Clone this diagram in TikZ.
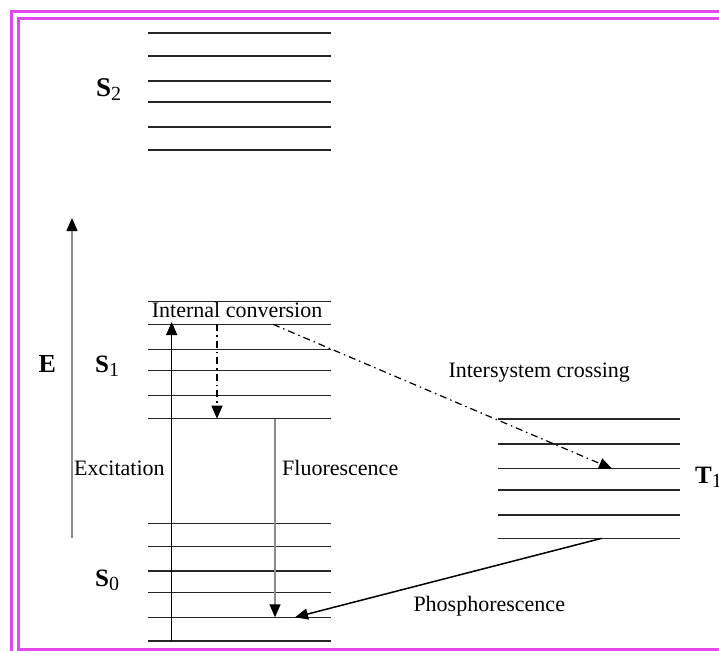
\documentclass[tikz,border=0pt]{standalone}
\usepackage{fontspec}
\setmainfont{Liberation Serif}
\usetikzlibrary{arrows.meta}
\definecolor{framecol}{RGB}{226,72,236}
\newcommand\stsub[1]{\raisebox{-4pt}{\fontsize{20}{20}\selectfont\mdseries #1}}
\begin{document}
\begin{tikzpicture}[x=1pt,y=-1pt,
  level/.style={line width=1.5pt,black!85},
  lbl/.style={font=\fontsize{22}{24}\selectfont,inner sep=0pt,anchor=base west},
  statelbl/.style={font=\fontsize{25}{27}\selectfont\bfseries,inner sep=0pt,anchor=base west},
  tiparrow/.style={-{Triangle[length=13pt,width=11pt,color=black]}},
  dashdot/.style={line width=1.2pt,dash pattern=on 7pt off 4pt on 1.5pt off 4pt},
  grayarrow/.style={line width=1.3pt,black!45},
  framebox/.style={draw=framecol,line width=3pt}]
\clip (0,0) rectangle (719,650);
\fill[white] (0,0) rectangle (719,650);
% frame
\draw[framebox] (11.3,11.5) rectangle (760,700);
\draw[framebox] (18.3,18.5) rectangle (750,649.3);
% levels
\foreach \y in {33,56,81,102,127,150} \draw[level] (148,\y) -- (331,\y);
\foreach \y in {301.7,324.3,349.3,370.7,395.7,418.7} \draw[level] (148,\y) -- (331,\y);
\foreach \y in {523.3,546.7,571,592.7,617.3,641} \draw[level] (148,\y) -- (331,\y);
\foreach \y in {419,444,468.7,490,515,538.3} \draw[level] (498,\y) -- (680,\y);
% state labels
\node[statelbl,font=\fontsize{27}{29}\selectfont\bfseries] (s2) at (96,96) {S\stsub{2}};
\node[statelbl] (s1) at (95,372.5) {S\stsub{1}};
\node[statelbl] (s0) at (95,586) {S\stsub{0}};
\node[statelbl] (t1) at (695,483) {T\stsub{1}};
\node[statelbl,font=\fontsize{26}{28}\selectfont\bfseries] (E) at (38.5,372) {E};
% text labels
\node[lbl] (ic) at (151.7,317) {Internal conversion};
\node[lbl] (isc) at (448.3,377) {Intersystem crossing};
\node[lbl] (exc) at (74,475) {Excitation};
\node[lbl] (fl) at (282,475) {Fluorescence};
\node[lbl] (ph) at (413.3,611) {Phosphorescence};
% arrow end points
\coordinate (Ebot) at (72,538);
\coordinate (Etop) at (72,218);
\coordinate (excA) at (171.7,641);
\coordinate (excB) at (171.7,322);
\coordinate (icA) at (217,324.3);
\coordinate (icB) at (217,418.7);
\coordinate (flA) at (275,418.7);
\coordinate (flB) at (275,617.3);
\coordinate (iscA) at (273,324.3);
\coordinate (iscB) at (612,468.7);
\coordinate (phA) at (601.7,538.3);
\coordinate (phB) at (295,617.3);
% arrows
\draw[grayarrow,tiparrow] (Ebot) -- (Etop);
\draw[line width=1.4pt,tiparrow] (excA) -- (excB);
\draw[dashdot,tiparrow] (icA) -- (icB);
\draw[grayarrow,tiparrow] (flA) -- (flB);
\draw[dashdot,tiparrow] (iscA) -- (iscB);
\draw[line width=1.5pt,tiparrow] (phA) -- (phB);
\end{tikzpicture}
\end{document}
